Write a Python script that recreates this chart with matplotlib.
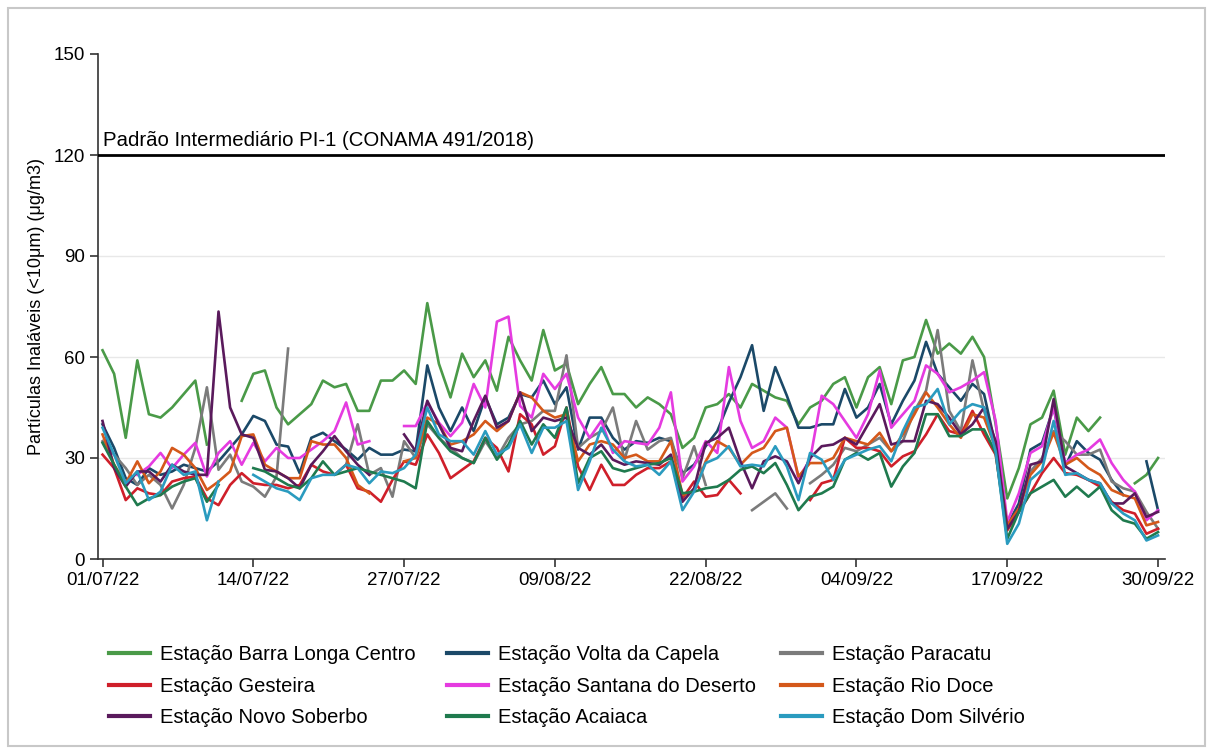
import numpy as np
import pandas as pd
import matplotlib
matplotlib.use("Agg")
import matplotlib.pyplot as plt
from matplotlib.patches import Rectangle

nan = np.nan

# === DATA: daily PM10 (µg/m3), 01/07/22 to 30/09/22 ===
dates = pd.date_range("2022-07-01", "2022-09-30", freq="D")
days = np.arange(len(dates))

barra_longa = [62, 55, 36, 59, 43, 42, 45, 49, 53, 34, nan, nan, 47, 55, 56, 45, 40, 43, 46, 53,
               51, 52, 44, 44, 53, 53, 56, 52, 76, 58, 48, 61, 54, 59, 50, 66, 59, 53, 68, 56,
               58, 46, 52, 57, 49, 49, 45, 48, 46, 43, 33, 36, 45, 46, 49, 45, 52, 50, 48, 47,
               40, 45, 47, 52, 54, 45, 54, 57, 46, 59, 60, 71, 61, 64, 61, 66, 60, 40, 18, 27,
               40, 42, 50, 31, 42, 38, 42, nan, nan, 22.5, 25, 30]
volta_capela = [40, 33, 24, 22, 27, 25, 26, 28, 27, 26, 29, 33, 37, 42.5, 41, 34, 33.4, 25.5, 36, 37.5,
                35, 32.5, 29.5, 33, 31, 31, 32.5, 32, 57.5, 45, 38, 45, 38, 48, 40, 42, 49, 48, 53, 46,
                51, 32.5, 42, 42, 36, 32.5, 35, 34.5, 36, 35, 25.5, 28, 33.5, 38, 46.5, 54, 63.5, 44, 57, 48.5,
                39, 39, 40, 40, 50.5, 42, 45, 52, 40, 47, 53, 64.5, 55, 51, 47, 52, 49, 33.5, 10, 16.5,
                32.5, 34.5, 45, 27.5, 35, 31.5, 29.5, 23.5, 19, nan, 29, 14.5]
paracatu = [35, 31, 27, 22, 25, 22, 15, 22, 33, 51, 26.5, 31, 23, 21.5, 18.5, 24.5, 62.5, nan, nan, nan,
            nan, 28, 40, 25, 27, 18.5, 35, 30, 40, 36, 33, 30, 28.5, 35, 30, 36, 40, 41, 44, 44,
            60.5, 33, 36, 38, 45, 29.5, 41, 32.5, 35, 36, 24, 33.5, 22, nan, nan, nan, 14.5, 17, 19.5, 15,
            nan, 22.5, 25, 28, 33, 32, 34, 36, 32, 35, 44, 50, 68, 44, 38, 59, 44, 33, 9, 14,
            26, 30, 38, 35, 31, 31, 32.5, 23, 21, 20, 14, 9]
gesteira = [31, 27, 17.5, 21, 19.5, 19, 23, 24, 24.5, 18, 16, 22, 25.5, 22.5, 22, 22, 21, 22, 28, 26,
            25, 28, 21, 20, 17, 23.5, 29, 28, 37, 31.5, 24, 26.5, 29, 36, 33, 26, 43, 40, 31, 33.5,
            45, 27.5, 20.5, 28, 22, 22, 25, 27, 27, 29, 18, 23, 18.5, 19, 23.5, 19.5, nan, nan, nan, nan,
            nan, 17.5, 22.5, 23.5, 36, 33, 33, 32, 27.5, 30.5, 32, 37, 43, 38, 37, 44, 37, 31, 8.5, 14,
            19.5, 25.5, 30, 25.5, 25, 23.5, 21.5, 17, 14.5, 13.5, 7.5, 9]
santana = [nan, nan, nan, 25, 27.5, 31.5, 27, 31, 34.5, 24.5, 31.5, 35, 28, 34.5, 29, 33, 30, 30, 32.5, 35,
           38, 46.5, 34, 35, nan, nan, 39.5, 39.5, 46.5, 40.5, 36.5, 40.5, 52, 45, 70.5, 72, 45.5, 42, 55, 50.5,
           55, 42, 36, 41, 31.5, 35, 34.5, 34, 39, 49.5, 23, 27.5, 35, 31.5, 57, 41, 33, 35, 42, 39,
           24, 29.5, 48.5, 46, 41, 36, 43, 56, 39, 43, 47, 57.5, 55, 49.5, 51, 53, 55.5, 41, 11, 19.5,
           31.5, 33.5, 45, 28.5, 31, 32.5, 35.5, 28.5, 23.5, 20, 11.5, 14.5]
rio_doce = [37, 28, 22.5, 29, 22.5, 26, 33, 31, 27, 20.5, 23, 26, 36.5, 37, 28, 26, 24, 24, 35, 34,
            34, 30, 22, 19.5, nan, nan, 29, 30, 42, 40, 34, 35, 37, 41, 38, 41, 49.5, 48, 44, 42,
            43, 29, 34, 35, 34, 30, 31, 29, 29, 35, 19, 20, 29, 35, 33, 28, 31.5, 33, 38, 39,
            24.5, 28.5, 28.5, 30, 36, 35, 34, 37.5, 32, 37, 43, 49.5, 45, 40, 36, 43, 42, 33, 10, 15,
            25, 29, 37.5, 28, 30, 27, 25, 20.5, 19, 18, 10, 11]
novo_soberbo = [41, 27, 21.5, 26, 26, 23, 28, 26, 25, 25, 73.5, 45, 37, 36, 26.5, 26, 24, 21, 28, 32,
                36.5, 32, 28, 25, nan, nan, 37, 32, 47, 40, 33, 32, 41, 48.5, 39, 41, 49.5, 38, 42, 41,
                42, 33, 31, 34, 29.5, 28, 29, 28.5, 28, 31, 17, 21, 34.5, 36, 39, 29, 21, 29, 30.5, 29,
                22.5, 30, 33.5, 34, 36, 34, 40, 46, 34, 35, 35, 47, 46, 42, 37, 40, 45, 35, 9, 14,
                28, 29, 47.5, 27.5, 25.5, 23.5, 22.5, 16.5, 16.5, 19.5, 12.5, 14]
acaiaca = [34.5, 28, 21.5, 16, 18, 19, 21.5, 23, 24, 17, 22, nan, nan, 27, 26, 24, 22, 21, 24, 29,
           25, 26, 27, 26, 25, 24, 23, 21, 41, 36, 32, 30, 28.5, 36, 29.5, 34, 41, 34, 40, 36,
           45, 22.5, 30, 32, 27, 26, 27, 28, 28.5, 30, 19.5, 20, 21, 21.5, 23.5, 26.5, 27.5, 25.5, 28.5, 22,
           14.5, 18.5, 19.5, 21.5, 29.5, 31.5, 29.5, 31.5, 21.5, 27.5, 31.5, 43, 43, 36.5, 36.5, 38.5, 38.5, 31.5, 6, 14,
           19.5, 21.5, 23.5, 18.5, 21.5, 18.5, 21.5, 14.5, 11.5, 10.5, 6, 8]
dom_silverio = [39, 31, 22.5, 26, 17.5, 20, 28, 25, 26, 11.5, 23, nan, nan, 25, 23, 21, 20, 17.5, 24, 25,
                25, 28, 27, 22.5, 26, 25.5, 27, 31, 45, 37, 35, 35, 31, 38, 31, 33, 40, 31.5, 39, 39,
                41, 20.5, 29, 39, 32.5, 29, 27.5, 28, 25, 29, 14.5, 20, 28.5, 30, 33.5, 27.5, 28, 27.5, 33.5, 27.5,
                17.5, 31.5, 29.5, 23.5, 29.5, 31, 32.5, 33.5, 29, 38, 45, 46, 50.5, 40, 44, 46, 45, 32, 4.5, 10.5,
                23.5, 26.5, 41, 25, 25.5, 23.5, 22.5, 16.5, 13.5, 11.5, 5.5, 7]

stations = ["Estação Barra Longa Centro", "Estação Volta da Capela", "Estação Paracatu",
            "Estação Gesteira", "Estação Santana do Deserto", "Estação Rio Doce",
            "Estação Novo Soberbo", "Estação Acaiaca", "Estação Dom Silvério"]
series = [barra_longa, volta_capela, paracatu, gesteira, santana, rio_doce,
          novo_soberbo, acaiaca, dom_silverio]
colors = ["#4a9a48", "#1b4968", "#7b7b7b", "#cf1f2a", "#e53be0", "#d4581a",
          "#5a1a5c", "#1f7a4e", "#2a9bbf"]

standard_value = 120
standard_label = "Padrão Intermediário PI-1 (CONAMA 491/2018)"
y_ticks = [0, 30, 60, 90, 120, 150]

# === FIGURE ===
plt.rcParams["font.family"] = ["Liberation Sans", "DejaVu Sans"]
W, H = 1213, 754
fig = plt.figure(figsize=(W / 100, H / 100), dpi=100)
fig.patches.append(Rectangle((8 / W, 8 / H), 1197 / W, 738 / H, transform=fig.transFigure,
                             fill=False, edgecolor="#c8c8c8", lw=1.5))

ax = fig.add_axes([98 / W, 1 - 559 / H, (1165 - 98) / W, (559 - 54) / H])

lines = []
for vals, name, col in zip(series, stations, colors):
    ln, = ax.plot(days, vals, color=col, lw=1.9, label=name, solid_joinstyle="round")
    lines.append(ln)

ax.axhline(standard_value, color="black", lw=2, zorder=5)
ax.text(0, standard_value + 1.6, standard_label, fontsize=14.7, ha="left", va="bottom")

ax.set_ylim(0, 150)
ax.set_xlim(-0.39, 91.6)
ax.set_yticks(y_ticks)
ax.set_xticks(days[::13])
ax.set_xticklabels(dates[::13].strftime("%d/%m/%y"))
ax.tick_params(labelsize=13.5, length=6, color="#333333", width=1.2)
ax.set_ylabel("Partículas Inaláveis (<10μm) (μg/m3)", fontsize=13, labelpad=6)

ax.yaxis.grid(True, color="#e8e8e8", lw=1)
ax.set_axisbelow(True)
ax.get_ygridlines()[-1].set_visible(False)
for s in ["top", "right"]:
    ax.spines[s].set_visible(False)
for s in ["left", "bottom"]:
    ax.spines[s].set_color("#333333")
    ax.spines[s].set_linewidth(1.2)

# === LEGEND: three columns placed by hand ===
col_x = [109, 447, 781]
for c in range(3):
    idx = [c, c + 3, c + 6]
    fig.legend([lines[i] for i in idx], [stations[i] for i in idx],
               loc="upper left", bbox_to_anchor=(col_x[c] / W, 1 - 645 / H),
               frameon=False, fontsize=14.5, handlelength=2.05, handletextpad=0.5,
               labelspacing=0.63, borderpad=0, borderaxespad=0)
for leg in fig.legends:
    for h in leg.legend_handles:
        h.set_linewidth(3)

fig.savefig("out.png", dpi=100)
